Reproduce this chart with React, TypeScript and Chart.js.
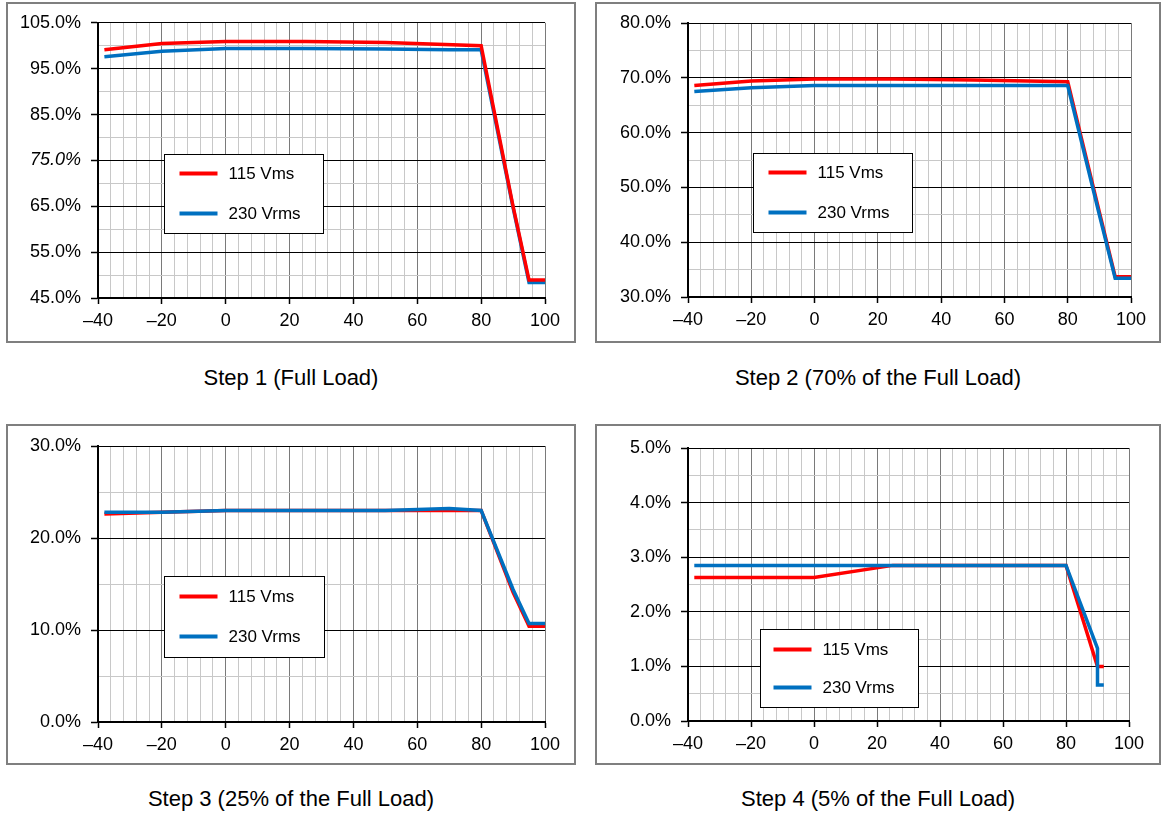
import React, { useEffect, useRef } from 'react';
import { Chart, registerables } from 'chart.js';

Chart.register(...registerables);

// ---------- data (temperature °C -> value %) ----------
const step1Temp115 = [-38, -20, 0, 25, 50, 80, 90, 95, 100];
const step1Val115 = [99.1, 100.5, 100.9, 100.9, 100.7, 100.0, 65.0, 48.9, 48.9];
const step1Temp230 = [-38, -20, 0, 25, 50, 70, 80, 90, 95, 100];
const step1Val230 = [97.6, 98.8, 99.4, 99.4, 99.3, 99.1, 99.1, 64.7, 48.4, 48.4];

const step2Temp115 = [-38, -20, 0, 25, 50, 80, 90, 95, 100];
const step2Val115 = [68.6, 69.4, 69.8, 69.8, 69.6, 69.3, 45.5, 33.7, 33.7];
const step2Temp230 = [-38, -20, 0, 25, 50, 80, 90, 95, 100];
const step2Val230 = [67.5, 68.2, 68.6, 68.6, 68.6, 68.6, 45.0, 33.4, 33.4];

const step3Temp115 = [-38, -20, 0, 25, 50, 70, 80, 90, 95, 100];
const step3Val115 = [22.6, 22.8, 23.0, 23.0, 23.0, 23.0, 23.0, 14.1, 10.4, 10.4];
const step3Temp230 = [-38, -20, 0, 25, 50, 70, 80, 90, 95, 100];
const step3Val230 = [22.8, 22.8, 23.0, 23.0, 23.0, 23.2, 23.0, 14.4, 10.7, 10.7];

const step4Temp115 = [-38, 0, 25, 80, 90, 92];
const step4Val115 = [2.63, 2.63, 2.85, 2.85, 1.0, 1.0];
const step4Temp230 = [-38, 80, 90, 90, 92];
const step4Val230 = [2.85, 2.85, 1.33, 0.66, 0.66];

// ---------- axes / labels ----------
const xRange = [-40, 100];
const xMinorStep = 4;
const xMajorStep = 20;
const yRanges = [[45, 105], [30, 80], [0, 30], [0, 5]];
const yMinorSteps = [5, 5, 5, 0.5];
const yMajorSteps = [10, 10, 10, 1];
const seriesNames = ['115 Vms', '230 Vrms'];
const titles = [
  'Step 1 (Full Load)',
  'Step 2 (70% of the Full Load)',
  'Step 3 (25% of the Full Load)',
  'Step 4 (5% of the Full Load)',
];

const seriesData = [
  [step1Temp115, step1Val115, step1Temp230, step1Val230],
  [step2Temp115, step2Val115, step2Temp230, step2Val230],
  [step3Temp115, step3Val115, step3Temp230, step3Val230],
  [step4Temp115, step4Val115, step4Temp230, step4Val230],
];

// ---------- layout ----------
const FONT = '"Liberation Sans", Arial, sans-serif';
const RED = '#ff0000';
const BLUE = '#0070c0';

const layouts = [
  { box: { x: 6, y: 2, w: 570, h: 341 }, plot: { l: 98, t: 22, r: 545, b: 298 }, leg: { dx: 66, dy: 131, w: 159, h: 79, lx: 15, ly1: 19, ly2: 59, tx: 64 }, titleY: 378, redTop: true },
  { box: { x: 595, y: 2, w: 566, h: 341 }, plot: { l: 688, t: 23, r: 1131, b: 297 }, leg: { dx: 65, dy: 130, w: 159, h: 79, lx: 15, ly1: 19, ly2: 59, tx: 64 }, titleY: 378, redTop: false },
  { box: { x: 6, y: 424, w: 570, h: 341 }, plot: { l: 98, t: 446, r: 545, b: 722 }, leg: { dx: 66, dy: 130, w: 160, h: 81, lx: 15, ly1: 20, ly2: 60, tx: 64 }, titleY: 799, redTop: false },
  { box: { x: 595, y: 424, w: 566, h: 341 }, plot: { l: 688, t: 448, r: 1129, b: 721 }, leg: { dx: 72, dy: 181, w: 158, h: 78, lx: 13, ly1: 20, ly2: 58, tx: 62 }, titleY: 799, redTop: false },
];

function isMajor(v: number, base: number, step: number) {
  const q = (v - base) / step;
  return Math.abs(q - Math.round(q)) < 1e-6;
}

function Panel({ idx }: { idx: number }) {
  const ref = useRef<HTMLCanvasElement | null>(null);
  const L = layouts[idx];

  useEffect(() => {
    if (!ref.current) return;
    const [x115, y115, x230, y230] = seriesData[idx];
    const [yMin, yMax] = yRanges[idx];
    const yMinor = yMinorSteps[idx];
    const yMajor = yMajorSteps[idx];
    const { box, plot, leg } = L;

    const legendPlugin = {
      id: 'boxLegend' + idx,
      afterDatasetsDraw(chart: any) {
        const ctx = chart.ctx;
        const a = chart.chartArea;
        const bx = Math.round(a.left + leg.dx) + 0.5;
        const by = Math.round(a.top + leg.dy) + 0.5;
        ctx.save();
        ctx.fillStyle = '#ffffff';
        ctx.fillRect(bx, by, leg.w, leg.h);
        ctx.strokeStyle = '#000000';
        ctx.lineWidth = 1;
        ctx.strokeRect(bx, by, leg.w, leg.h);
        const items = [
          { c: RED, y: by + leg.ly1, t: seriesNames[0] },
          { c: BLUE, y: by + leg.ly2, t: seriesNames[1] },
        ];
        ctx.font = '17px ' + FONT;
        ctx.textBaseline = 'middle';
        ctx.textAlign = 'left';
        for (const it of items) {
          ctx.strokeStyle = it.c;
          ctx.lineWidth = 4;
          ctx.beginPath();
          ctx.moveTo(bx + leg.lx, it.y);
          ctx.lineTo(bx + leg.lx + 38, it.y);
          ctx.stroke();
          ctx.fillStyle = '#000000';
          ctx.fillText(it.t, bx + leg.tx, it.y + 1);
        }
        ctx.restore();
      },
    };

    const mk = (xs: number[], ys: number[]) => xs.map((x, i) => ({ x, y: ys[i] }));

    const chart = new Chart(ref.current, {
      type: 'line',
      data: {
        datasets: [
          {
            label: seriesNames[0],
            data: mk(x115, y115),
            borderColor: RED,
            backgroundColor: RED,
            borderWidth: 3.5,
            pointRadius: 0,
            tension: 0,
            order: L.redTop ? 0 : 1,
          },
          {
            label: seriesNames[1],
            data: mk(x230, y230),
            borderColor: BLUE,
            backgroundColor: BLUE,
            borderWidth: 3.5,
            pointRadius: 0,
            tension: 0,
            order: L.redTop ? 1 : 0,
          },
        ],
      },
      options: {
        animation: false,
        responsive: false,
        maintainAspectRatio: false,
        layout: {
          padding: {
            left: 0,
            top: plot.t - box.y,
            right: box.x + box.w - plot.r,
            bottom: 0,
          },
        },
        plugins: {
          legend: { display: false },
          tooltip: { enabled: false },
          title: { display: false },
        },
        scales: {
          x: {
            type: 'linear',
            min: xRange[0],
            max: xRange[1],
            afterFit: (s: any) => { s.height = box.y + box.h - plot.b; },
            border: { display: true, color: '#000000', width: 2 },
            grid: {
              color: (c: any) => (isMajor(c.tick.value, xRange[0], xMajorStep) ? '#7a7a7a' : '#c8c8c8'),
              lineWidth: 1,
              drawTicks: true,
              tickLength: 6,
              tickColor: (c: any) => (isMajor(c.tick.value, xRange[0], xMajorStep) ? '#000000' : 'rgba(0,0,0,0)'),
              tickWidth: 1.5,
            },
            ticks: {
              stepSize: xMinorStep,
              autoSkip: false,
              maxRotation: 0,
              padding: 6,
              color: '#000000',
              font: { family: FONT, size: 18 },
              callback: (v: any) => {
                const n = Number(v);
                if (!isMajor(n, xRange[0], xMajorStep)) return '';
                return n < 0 ? '\u2013' + Math.abs(n) : String(n);
              },
            },
          },
          y: {
            type: 'linear',
            min: yMin,
            max: yMax,
            afterFit: (s: any) => { s.width = plot.l - box.x; },
            border: { display: true, color: '#000000', width: 2 },
            grid: {
              color: (c: any) => (isMajor(c.tick.value, yMin, yMajor) ? '#000000' : '#c8c8c8'),
              lineWidth: 1,
              drawTicks: true,
              tickLength: 7,
              tickColor: (c: any) => (isMajor(c.tick.value, yMin, yMajor) ? '#000000' : 'rgba(0,0,0,0)'),
              tickWidth: 1.5,
            },
            ticks: {
              stepSize: yMinor,
              autoSkip: false,
              padding: 10,
              color: '#000000',
              font: (c: any) => ({
                family: FONT,
                size: 18,
                style: idx === 0 && c.tick && Math.abs(c.tick.value - 75) < 1e-6 ? 'italic' : 'normal',
              }),
              callback: (v: any) => {
                const n = Number(v);
                if (!isMajor(n, yMin, yMajor)) return '';
                return n.toFixed(1) + '%';
              },
            },
          },
        },
      } as any,
      plugins: [legendPlugin],
    });
    return () => chart.destroy();
  }, [idx]);

  const { box, titleY } = L;
  return (
    <>
      <div
        style={{
          position: 'absolute',
          left: box.x,
          top: box.y,
          width: box.w,
          height: box.h,
          border: '2px solid #7f7f7f',
          boxSizing: 'border-box',
          background: '#ffffff',
        }}
      />
      <canvas
        ref={ref}
        width={box.w}
        height={box.h}
        style={{ position: 'absolute', left: box.x, top: box.y, width: box.w, height: box.h }}
      />
      <div
        style={{
          position: 'absolute',
          left: box.x,
          width: box.w,
          top: titleY - 13,
          height: 26,
          lineHeight: '26px',
          textAlign: 'center',
          fontFamily: FONT,
          fontSize: 22,
          color: '#000000',
          whiteSpace: 'nowrap',
        }}
      >
        {titles[idx]}
      </div>
    </>
  );
}

export default function App() {
  useEffect(() => {
    document.body.style.margin = '0';
  }, []);
  return (
    <div style={{ position: 'relative', width: 1161, height: 813, background: '#ffffff', overflow: 'hidden' }}>
      {[0, 1, 2, 3].map((i) => (
        <Panel key={i} idx={i} />
      ))}
    </div>
  );
}
